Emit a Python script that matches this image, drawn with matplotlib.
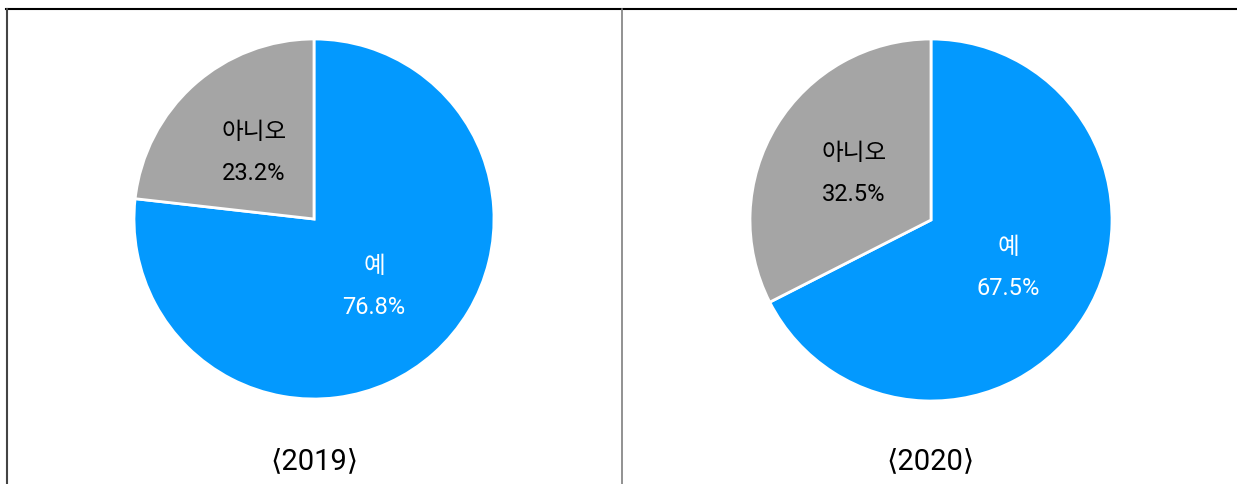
import numpy as np
import matplotlib.pyplot as plt
from matplotlib.lines import Line2D

plt.rcParams['font.family'] = ['Roboto', 'Noto Sans CJK KR', 'DejaVu Sans']

labels = ["예", "아니오"]
vals_2019 = [76.8, 23.2]
vals_2020 = [67.5, 32.5]
years = ["2019", "2020"]
colors = ["#0399FE", "#A5A5A5"]
text_colors = ["white", "black"]

W, H = 1237, 485
fig = plt.figure(figsize=(W/100, H/100), dpi=100)

# pie centres / radii in pixels
pies = [(314, 220, 180, vals_2019, years[0]),
        (931, 221, 181, vals_2020, years[1])]

for cx, cy, r, vals, yr in pies:
    ax = fig.add_axes([(cx-r)/W, (H-cy-r)/H, 2*r/W, 2*r/H])
    wedges, _ = ax.pie(vals, colors=colors, startangle=90, counterclock=False,
                       wedgeprops=dict(edgecolor="white", linewidth=2))
    ax.set_xlim(-1, 1)
    ax.set_ylim(-1, 1)
    ax.axis("off")
    for w, lab, v, tc in zip(wedges, labels, vals, text_colors):
        th = np.deg2rad((w.theta1 + w.theta2)/2)
        x, y = 0.5*np.cos(th), 0.5*np.sin(th)
        ax.text(x, y, lab + "\n" + f"{v:.1f}%", ha="center", va="center",
                fontsize=17, color=tc, linespacing=2.0)
    fig.text(cx/W, 1-461/H, "⟨" + yr + "⟩", ha="center", va="center",
             fontsize=21, color="black")

# frame lines
fig.add_artist(Line2D([6/W, 1], [1-9.5/H, 1-9.5/H], color="black", lw=1.5))
fig.add_artist(Line2D([6.5/W, 6.5/W], [0, 1-9.5/H], color="#444444", lw=1.5))
fig.add_artist(Line2D([621.5/W, 621.5/W], [0, 1-9.5/H], color="#7f7f7f", lw=1.2))

fig.savefig("out.png", dpi=100)
